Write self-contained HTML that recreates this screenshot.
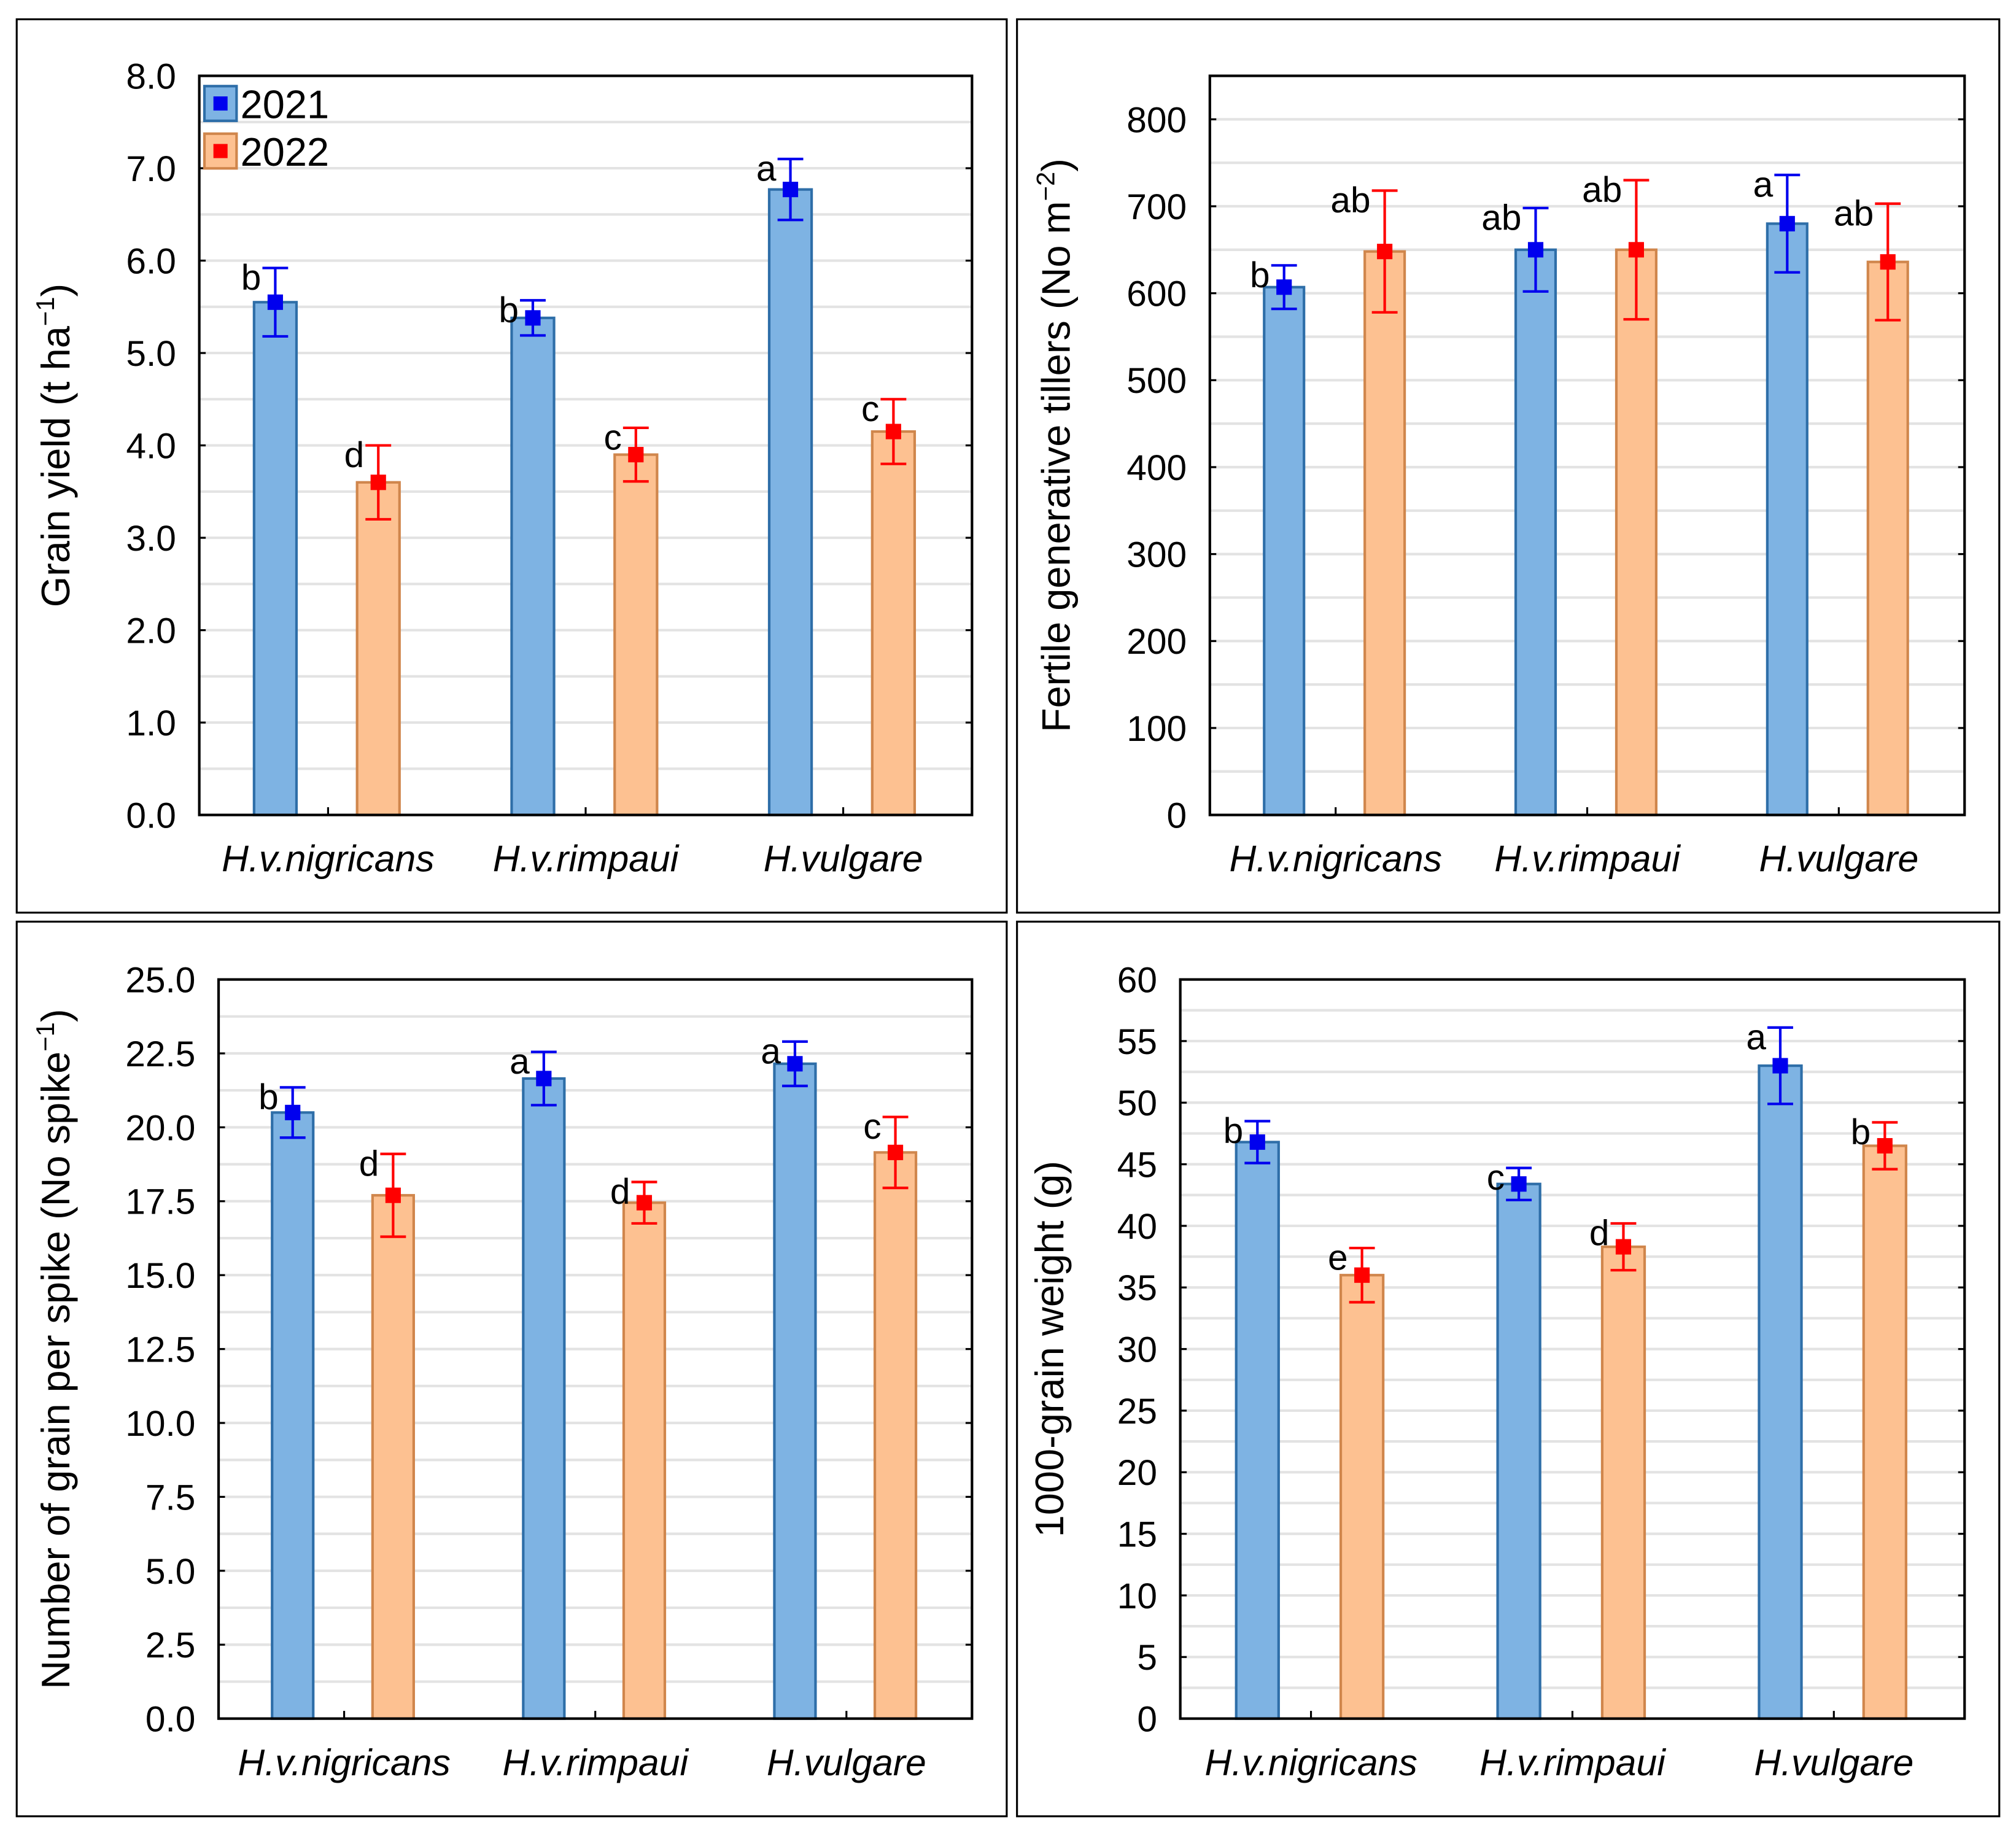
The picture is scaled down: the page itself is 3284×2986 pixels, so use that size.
<!DOCTYPE html>
<html><head><meta charset="utf-8">
<style>
html,body{margin:0;padding:0;background:#fff;}
svg{display:block;}
text{font-family:"Liberation Sans",Arial,sans-serif;}
</style></head>
<body>
<svg id="fig" width="3284" height="2986" viewBox="0 0 1568 1426" preserveAspectRatio="none" xmlns="http://www.w3.org/2000/svg"></svg>
<script>
const categories = ["H.v.nigricans","H.v.rimpaui","H.vulgare"];
const seriesNames = ["2021","2022"];
// Panel A: grain yield
const yieldMean2021 = [5.55, 5.38, 6.77];
const yieldErr2021 = [0.37, 0.19, 0.33];
const yieldMean2022 = [3.60, 3.90, 4.15];
const yieldErr2022 = [0.40, 0.29, 0.35];
const yieldLetters2021 = ["b","b","a"];
const yieldLetters2022 = ["d","c","c"];
const yieldTicks = ["0.0","1.0","2.0","3.0","4.0","5.0","6.0","7.0","8.0"];
// Panel B: tillers
const tillMean2021 = [607, 650, 680];
const tillErr2021 = [25, 48, 56];
const tillMean2022 = [648, 650, 636];
const tillErr2022 = [70, 80, 67];
const tillLetters2021 = ["b","ab","a"];
const tillLetters2022 = ["ab","ab","ab"];
const tillTicks = ["0","100","200","300","400","500","600","700","800"];
// Panel C: grains per spike
const spikeMean2021 = [20.5, 21.65, 22.15];
const spikeErr2021 = [0.85, 0.9, 0.75];
const spikeMean2022 = [17.7, 17.45, 19.15];
const spikeErr2022 = [1.4, 0.7, 1.2];
const spikeLetters2021 = ["b","a","a"];
const spikeLetters2022 = ["d","d","c"];
const spikeTicks = ["0.0","2.5","5.0","7.5","10.0","12.5","15.0","17.5","20.0","22.5","25.0"];
// Panel D: 1000-grain weight
const tgwMean2021 = [46.8, 43.4, 53.0];
const tgwErr2021 = [1.7, 1.3, 3.1];
const tgwMean2022 = [36.0, 38.3, 46.5];
const tgwErr2022 = [2.2, 1.9, 1.9];
const tgwLetters2021 = ["b","c","a"];
const tgwLetters2022 = ["e","d","b"];
const tgwTicks = ["0","5","10","15","20","25","30","35","40","45","50","55","60"];

const NS="http://www.w3.org/2000/svg";
const svg=document.getElementById('fig');
function el(tag,attrs,parent,txt){const e=document.createElementNS(NS,tag);for(const k in attrs)e.setAttribute(k,attrs[k]);if(txt!==undefined)e.textContent=txt;(parent||svg).appendChild(e);return e;}

function panel(cfg){
  const g=el('g',{});
  
  
  const fr=el('rect',{x:cfg.box[0],y:cfg.box[1],width:cfg.box[2]-cfg.box[0],height:cfg.box[3]-cfg.box[1],fill:'none',stroke:'#000','stroke-width':1.5},g);
  
  const [L,T,R,B]=cfg.plot;
  const y=v=>B-(v-cfg.ymin)/(cfg.ymax-cfg.ymin)*(B-T);
  for(let v=cfg.ymin+cfg.minor; v<cfg.ymax-1e-9; v+=cfg.minor){
    const gl=el('line',{x1:L,x2:R,y1:y(v),y2:y(v),stroke:'#e3e3e3','stroke-width':2},g);
    
  }
  cfg.ticks.forEach(t=>{
    const v=parseFloat(t);const yy=y(v);
    el('line',{x1:L,x2:L+5,y1:yy,y2:yy,stroke:'#000','stroke-width':1.5},g);
    el('line',{x1:R-5,x2:R,y1:yy,y2:yy,stroke:'#000','stroke-width':1.5},g);
    const tl=el('text',{x:L-18,y:yy+10,'text-anchor':'end','font-size':28},g,t);
    
  });
  const step=(R-L)/3;
  categories.forEach((c,i)=>{
    const cx=L+step*(i+0.5);
    el('line',{x1:cx,x2:cx,y1:B,y2:B-6,stroke:'#000','stroke-width':1.5},g);
    const xl=el('text',{x:cx,y:B+44,'text-anchor':'middle','font-size':29,'font-style':'italic'},g,c);
    
    const s=[{m:cfg.m1,e:cfg.e1,l:cfg.l1,off:-step*0.205,fill:'#7eb3e3',st:'#2e6ea8',mk:'#0000ee'},
             {m:cfg.m2,e:cfg.e2,l:cfg.l2,off:step*0.195,fill:'#fdc191',st:'#d0864c',mk:'#ff0000'}];
    s.forEach((sr,k)=>{
      const bx=cx+sr.off, w=cfg.bw, v=sr.m[i];
      const bar=el('rect',{x:bx-w/2,y:y(v),width:w,height:B-y(v),fill:sr.fill,stroke:sr.st,'stroke-width':2},g);
      
      const hi=y(v+sr.e[i]),lo=y(v-sr.e[i]);
      const eb=el('g',{stroke:sr.mk,'stroke-width':2},g);
      
      el('line',{x1:bx,x2:bx,y1:hi,y2:lo},eb);
      el('line',{x1:bx-10,x2:bx+10,y1:hi,y2:hi},eb);
      el('line',{x1:bx-10,x2:bx+10,y1:lo,y2:lo},eb);
      const mk=el('rect',{x:bx-6,y:y(v)-6,width:12,height:12,fill:sr.mk},g);
      
      const lt=el('text',{x:bx-11,y:hi+17,'text-anchor':'end','font-size':28},g,sr.l[i]);
      
    });
  });
  el('rect',{x:L,y:T,width:R-L,height:B-T,fill:'none',stroke:'#000','stroke-width':2},g);
  const tx=cfg.titleX, ty=(T+B)/2;
  const at=el('text',{x:tx,y:ty,'text-anchor':'middle','font-size':31,transform:`rotate(-90 ${tx} ${ty})`},g);
  
  at.innerHTML=cfg.title;
  return g;
}

panel({name:'grain-yield-panel',box:[13,15,783,710],plot:[155,59,756,634],ymin:0,ymax:8,minor:0.5,ticks:yieldTicks,
  m1:yieldMean2021,e1:yieldErr2021,m2:yieldMean2022,e2:yieldErr2022,l1:yieldLetters2021,l2:yieldLetters2022,bw:33,titleX:54,
  title:'Grain yield (t ha<tspan dy="-12" font-size="20">−1</tspan><tspan dy="12">)</tspan>'});
panel({name:'tillers-panel',box:[791,15,1555,710],plot:[941,59,1528,634],ymin:0,ymax:850,minor:50,ticks:tillTicks,
  m1:tillMean2021,e1:tillErr2021,m2:tillMean2022,e2:tillErr2022,l1:tillLetters2021,l2:tillLetters2022,bw:31,titleX:832,
  title:'Fertile generative tillers (No m<tspan dy="-12" font-size="20">−2</tspan><tspan dy="12">)</tspan>'});
panel({name:'grains-per-spike-panel',box:[13,717,783,1413],plot:[170,762,756,1337],ymin:0,ymax:25,minor:1.25,ticks:spikeTicks,
  m1:spikeMean2021,e1:spikeErr2021,m2:spikeMean2022,e2:spikeErr2022,l1:spikeLetters2021,l2:spikeLetters2022,bw:32,titleX:54,
  title:'Number of grain per spike (No spike<tspan dy="-12" font-size="20">−1</tspan><tspan dy="12">)</tspan>'});
panel({name:'grain-weight-panel',box:[791,717,1555,1413],plot:[918,762,1528,1337],ymin:0,ymax:60,minor:2.5,ticks:tgwTicks,
  m1:tgwMean2021,e1:tgwErr2021,m2:tgwMean2022,e2:tgwErr2022,l1:tgwLetters2021,l2:tgwLetters2022,bw:33,titleX:827,
  title:'1000-grain weight (g)'});

const lg=el('g',{});

[['2021','#7eb3e3','#2e6ea8','#0000ee',67],['2022','#fdc191','#d0864c','#ff0000',104]].forEach(d=>{
  const e=el('g',{},lg);
  
  el('rect',{x:159,y:d[4],width:25,height:27,fill:d[1],stroke:d[2],'stroke-width':2},e);
  el('rect',{x:166,y:d[4]+8,width:11,height:11,fill:d[3]},e);
  el('text',{x:187,y:d[4]+25,'font-size':31},e,d[0]);
});
</script>
</body></html>
